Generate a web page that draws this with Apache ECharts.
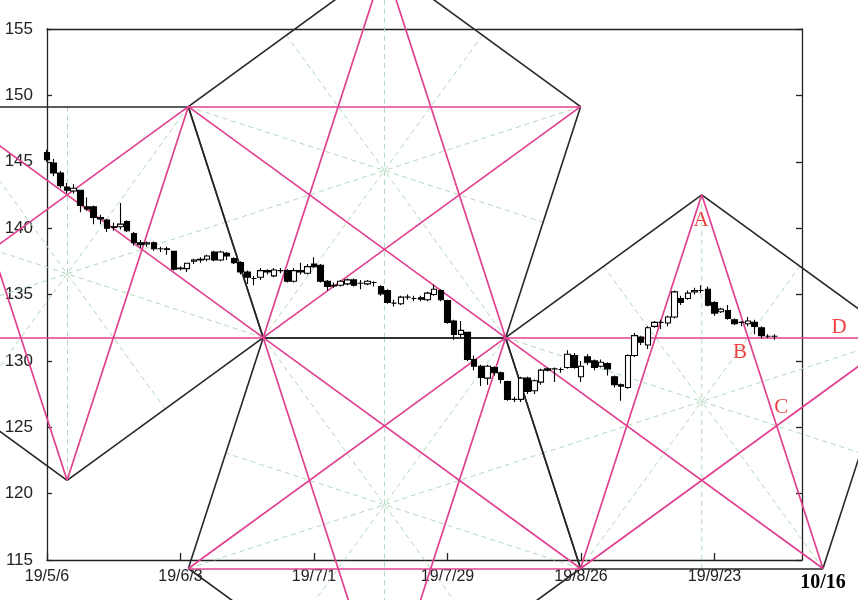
<!DOCTYPE html>
<html><head><meta charset="utf-8">
<script src="https://cdn.jsdelivr.net/npm/echarts@6/dist/echarts.min.js"></script>
<style>html,body{margin:0;padding:0;background:#fff}#c{width:858px;height:600px}</style>
</head><body><div id="c"></div>
<script>
// x = weekday index counted from 19/5/6
const xTickLabels = ['19/5/6','19/6/3','19/7/1','19/7/29','19/8/26','19/9/23'];
const opens  = [145.7,144.9,144.15,143.1,142.8,142.85,141.6,141.6,140.8,140.6,140.1,140.1,140.5,139.6,138.9,138.8,138.9,138.45,138.45,138.25,
                137.0,136.95,137.5,137.6,137.65,138.2,137.6,138.1,137.7,137.4,136.7,136.2,136.3,136.8,136.4,136.8,136.8,136.0,136.8,136.6,
                137.3,137.2,136.0,135.7,135.7,135.8,136.1,135.85,135.8,135.9,135.6,135.3,134.35,134.3,134.8,134.7,134.75,134.6,135.0,135.3,
                134.55,133.0,132.0,132.15,130.1,129.6,128.7,129.5,129.1,128.45,127.1,127.1,128.7,127.75,128.4,129.3,129.4,129.35,129.5,130.4,
                128.8,130.3,130.0,129.6,129.8,128.8,128.2,128.0,130.4,131.8,131.2,132.6,132.9,132.85,133.3,134.7,134.7,135.2,135.3,135.4,
                134.4,133.7,133.8,133.1,132.9,132.8,132.9,132.5,131.85,131.85];
const closes = [145.15,144.15,143.2,142.85,143.0,141.7,141.45,140.8,140.7,140.0,140.05,140.3,139.8,138.9,138.75,138.9,138.45,138.45,138.4,136.9,
                136.95,137.35,137.6,137.65,137.9,137.6,138.2,137.9,137.4,136.7,136.3,136.2,136.8,136.7,136.85,136.8,136.0,136.8,136.7,137.1,
                137.1,136.0,135.6,135.65,136.0,136.1,135.7,135.85,136.0,135.9,135.05,134.4,134.35,134.8,134.8,134.7,134.65,135.1,135.4,134.6,
                132.9,132.0,132.3,130.1,129.6,128.75,129.6,129.1,128.6,127.1,127.1,128.7,127.7,128.5,129.3,129.4,129.4,129.35,130.5,129.5,
                129.6,129.9,129.5,129.9,129.4,128.2,128.1,130.4,131.9,131.4,132.5,132.9,132.9,133.3,135.2,134.4,135.1,135.3,135.3,134.2,
                133.6,133.9,133.2,132.8,132.9,133.0,132.6,131.9,131.85,131.85];
const lows   = [145.0,143.9,143.0,142.6,142.6,141.2,141.3,140.3,140.3,139.7,139.8,139.9,139.7,138.7,138.5,138.6,138.3,138.2,138.0,136.8,
                136.8,136.7,137.3,137.4,137.5,137.5,137.5,137.6,137.3,136.5,135.8,135.7,136.1,136.5,136.3,136.6,135.9,135.9,136.5,136.5,
                137.0,135.9,135.3,135.5,135.6,135.7,135.6,135.4,135.7,135.6,134.9,134.3,134.1,134.2,134.6,134.5,134.5,134.5,134.9,134.5,
                132.8,131.6,131.8,130.0,129.3,128.1,128.2,128.9,128.3,127.0,126.9,126.9,127.5,127.5,128.2,129.2,128.4,129.1,129.4,129.4,
                128.4,129.7,129.3,129.5,128.9,128.0,127.0,127.9,130.3,131.2,130.9,132.5,132.4,132.6,133.2,134.2,134.6,135.0,135.1,134.1,
                133.4,133.6,133.1,132.7,132.6,132.6,132.0,131.7,131.7,131.6];
const highs  = [145.9,145.2,144.3,143.4,143.3,142.9,142.3,141.7,141.0,140.7,140.4,141.9,140.6,139.7,139.1,139.0,139.0,138.6,138.6,138.3,
                137.1,137.4,137.7,137.8,138.0,138.3,138.3,138.2,137.8,137.5,136.8,136.4,137.0,136.9,137.0,137.0,136.9,137.0,137.4,137.3,
                137.8,137.3,136.1,135.9,136.1,136.2,136.2,136.1,136.1,136.0,135.7,135.4,134.6,134.9,135.0,134.9,134.9,135.2,135.75,135.4,
                134.6,133.1,133.0,132.2,130.4,129.7,129.7,129.6,129.2,128.5,127.3,128.8,128.8,128.6,129.4,129.5,129.5,129.5,130.8,130.6,
                130.0,130.5,130.1,130.1,129.9,128.9,128.3,130.5,132.1,131.9,132.6,133.0,133.1,133.4,135.3,134.9,135.3,135.5,135.7,135.6,
                134.5,134.0,134.2,133.2,133.0,133.3,133.1,132.6,132.0,132.0];

// pentagon vertices (weekday index, price), listed around each outline
const upperPentagon = [[50.55,159.91],[79.93,149.15],[68.70,131.75],[32.39,131.75],[21.17,149.15]];
const lowerPentagon = [[32.39,131.75],[68.70,131.75],[79.93,114.36],[50.55,103.6],[21.17,114.36]];
const rightPentagon = [[98.08,142.51],[127.46,131.75],[116.24,114.36],[79.93,114.36],[68.70,131.75]];
const leftPentagon  = [[21.17,149.15],[32.39,131.75],[3.01,121.0],[-26.37,131.75],[-15.15,149.15]];
const pentagons = [upperPentagon, lowerPentagon, rightPentagon, leftPentagon];

const markLetters = ['A','B','C','D'];
const markAnchors = [[98.0,140.58],[103.8,130.62],[110.0,126.47],[118.65,132.5]];

const candles = opens.map((o,i)=>[i, o, closes[i], lows[i], highs[i]]);

function segs(kind){
  const out=[];
  pentagons.forEach(p=>{
    for(let i=0;i<5;i++){
      const a=p[i];
      if(kind==='edge') out.push({coords:[a,p[(i+1)%5]]});
      else if(kind==='diag') out.push({coords:[a,p[(i+2)%5]]});
      else { const b=p[(i+2)%5], c=p[(i+3)%5]; out.push({coords:[a,[(b[0]+c[0])/2,(b[1]+c[1])/2]]}); }
    }
  });
  return out;
}

const sansFont = '"Liberation Sans", Arial, "DejaVu Sans", sans-serif';
const narrowFont = '"Liberation Sans Narrow", "Liberation Sans", Arial, sans-serif';
const chart = echarts.init(document.getElementById('c'), null, {renderer:'canvas'});
const axisCol = '#222';
chart.setOption({
  animation:false,
  backgroundColor:'#fff',
  textStyle:{fontFamily:sansFont},
  grid:{left:47,right:56,top:29,bottom:40,containLabel:false},
  xAxis:[{
    type:'value',min:0,max:113.1,interval:20,position:'bottom',
    axisLine:{show:true,lineStyle:{color:axisCol,width:1.3}},
    axisTick:{show:true,inside:true,length:7,lineStyle:{color:axisCol,width:1.3}},
    axisLabel:{show:true,margin:9,fontFamily:sansFont,fontSize:16,color:'#222',showMaxLabel:false,
      formatter:v=>{const k=Math.round(v/20);return (Math.abs(v-k*20)<1e-6 && xTickLabels[k])?xTickLabels[k]:'';}},
    splitLine:{show:false}
  },{
    type:'value',min:0,max:113.1,position:'top',
    axisLine:{show:true,onZero:false,lineStyle:{color:axisCol,width:1.3}},
    axisTick:{show:false},axisLabel:{show:false},splitLine:{show:false}
  }],
  yAxis:[{
    type:'value',min:115,max:155,interval:5,position:'left',
    axisLine:{show:true,onZero:false,lineStyle:{color:axisCol,width:1.3}},
    axisTick:{show:true,inside:true,length:5,lineStyle:{color:axisCol,width:1.3}},
    axisLabel:{show:true,margin:14,fontFamily:narrowFont,fontSize:17,color:'#222'},
    splitLine:{show:false}
  },{
    type:'value',min:115,max:155,interval:5,position:'right',
    axisLine:{show:true,onZero:false,lineStyle:{color:axisCol,width:1.3}},
    axisTick:{show:true,inside:true,length:6,lineStyle:{color:axisCol,width:1.3}},
    axisLabel:{show:false},splitLine:{show:false}
  }],
  series:[
    {type:'lines',coordinateSystem:'cartesian2d',clip:false,silent:true,z:1,
     lineStyle:{color:'#b0d8bc',width:1,type:[5,4],opacity:1},data:segs('axis')},
    {type:'lines',coordinateSystem:'cartesian2d',clip:false,silent:true,z:2,
     lineStyle:{color:'#262626',width:1.6,opacity:1},data:segs('edge')},
    {type:'lines',coordinateSystem:'cartesian2d',clip:false,silent:true,z:3,
     lineStyle:{color:'#e0408f',width:1.7,opacity:1},data:segs('diag')},
    {type:'candlestick',z:5,barWidth:6,data:candles,
     itemStyle:{color:'#fff',color0:'#000',borderColor:'#000',borderColor0:'#000',borderWidth:1.1}},
    {type:'scatter',z:6,clip:false,silent:true,symbolSize:1,itemStyle:{color:'rgba(0,0,0,0)'},
     data:markLetters.map((t,i)=>({name:t,value:markAnchors[i]})),
     label:{show:true,position:'inside',formatter:'{b}',color:'#e8100f',fontFamily:'"Liberation Serif", serif',fontSize:21}}
  ],
  graphic:[{type:'text',x:823,y:583,z:10,
    style:{text:'10/16',align:'center',verticalAlign:'middle',textAlign:'center',textVerticalAlign:'middle',
      font:'bold 20px "Liberation Serif", serif',fill:'#000'}}]
});
</script></body></html>
